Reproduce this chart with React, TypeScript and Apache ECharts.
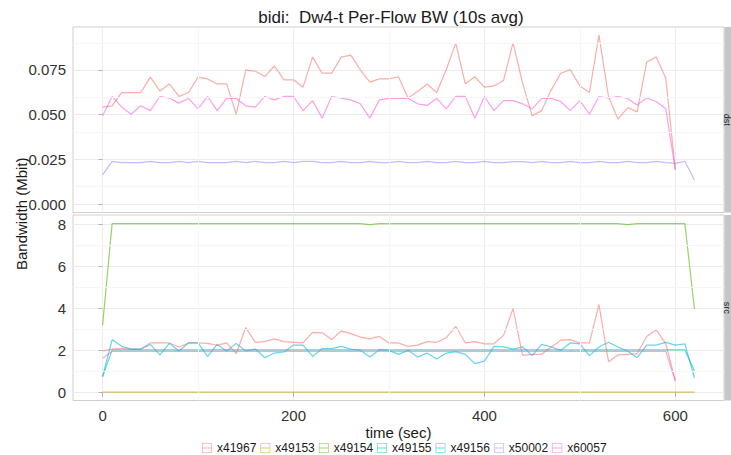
import React, { useEffect, useRef } from "react";
import * as echarts from "echarts";

const times = [0, 10, 20, 30, 40, 50, 60, 70, 80, 90, 100, 110, 120, 130, 140, 150, 160, 170, 180, 190, 200, 210, 220, 230, 240, 250, 260, 270, 280, 290, 300, 310, 320, 330, 340, 350, 360, 370, 380, 390, 400, 410, 420, 430, 440, 450, 460, 470, 480, 490, 500, 510, 520, 530, 540, 550, 560, 570, 580, 590, 600, 610, 620];

const legendNames = ["x41967", "x49153", "x49154", "x49155", "x49156", "x50002", "x60057"];
const colors: Record<string, string> = {
  x41967: "#F8766D",
  x49153: "#C49A00",
  x49154: "#53B400",
  x49155: "#00C094",
  x49156: "#00B6EB",
  x50002: "#A58AFF",
  x60057: "#FB61D7",
};

// dst panel (Mbit)
const dst41967 = [0.0542, 0.055, 0.0624, 0.0624, 0.0624, 0.071, 0.0633, 0.0672, 0.0602, 0.0624,
  0.071, 0.07, 0.0672, 0.0672, 0.0503, 0.0751, 0.0743, 0.0713, 0.0773, 0.0695,
  0.0695, 0.0654, 0.0822, 0.0732, 0.0732, 0.0822, 0.0833, 0.0751, 0.0682, 0.07,
  0.07, 0.0712, 0.0593, 0.063, 0.0672, 0.0624, 0.0751, 0.09, 0.0672, 0.0712,
  0.0654, 0.0661, 0.0691, 0.0903, 0.0677, 0.0494, 0.0523, 0.0639, 0.0732, 0.0751,
  0.0661, 0.0624, 0.0945, 0.0602, 0.0475, 0.054, 0.0516, 0.0794, 0.0822, 0.0704,
  0.0192];
const dst50002 = [0.0164, 0.024, 0.0233, 0.0233, 0.0233, 0.024, 0.0233, 0.0233, 0.024, 0.0233,
  0.024, 0.0233, 0.0233, 0.0233, 0.024, 0.0233, 0.024, 0.0233, 0.0233, 0.024,
  0.0233, 0.024, 0.024, 0.0233, 0.0233, 0.024, 0.0233, 0.0233, 0.024, 0.0233,
  0.0233, 0.024, 0.0233, 0.0233, 0.024, 0.0233, 0.0233, 0.024, 0.0233, 0.0233,
  0.024, 0.0233, 0.0233, 0.0238, 0.0238, 0.0233, 0.024, 0.0233, 0.0233, 0.024,
  0.0233, 0.0233, 0.024, 0.0233, 0.0233, 0.024, 0.0233, 0.0233, 0.024, 0.0233,
  0.0228, 0.024, 0.0136];
const dst60057 = [0.0494, 0.0602, 0.0542, 0.0503, 0.055, 0.0523, 0.0602, 0.0593, 0.0565, 0.0591,
  0.0533, 0.0602, 0.0523, 0.0591, 0.0591, 0.055, 0.0542, 0.0602, 0.0583, 0.0602,
  0.0602, 0.0523, 0.0579, 0.0481, 0.0602, 0.0593, 0.0583, 0.0561, 0.0481, 0.0583,
  0.0591, 0.0591, 0.0591, 0.0561, 0.0552, 0.0591, 0.0533, 0.0602, 0.0602, 0.0481,
  0.0602, 0.0523, 0.0579, 0.0579, 0.0561, 0.0533, 0.0591, 0.0591, 0.0574, 0.0523,
  0.0579, 0.0503, 0.0602, 0.0593, 0.0602, 0.0591, 0.0554, 0.0594, 0.0574, 0.0533,
  0.0192];

// src panel (Mbit)
const src41967 = [1.98, 2.07, 2.1, 2.07, 2.07, 2.36, 2.36, 2.36, 2.17, 2.36,
  2.36, 2.34, 2.25, 2.36, 1.85, 3.09, 2.39, 2.42, 2.55, 2.42,
  2.39, 2.36, 2.86, 2.84, 2.52, 2.93, 2.8, 2.64, 2.55, 2.67,
  2.36, 2.36, 2.2, 2.26, 2.42, 2.39, 2.61, 3.15, 2.36, 2.42,
  2.32, 2.32, 2.72, 3.99, 1.77, 1.82, 1.82, 2.17, 2.49, 2.52,
  2.36, 2.36, 4.18, 1.47, 1.79, 1.82, 1.85, 2.67, 2.99, 2.32,
  0.58];
const src49153 = [0.03, 0.03, 0.03, 0.03, 0.03, 0.03, 0.03, 0.03, 0.03, 0.03,
  0.03, 0.03, 0.03, 0.03, 0.03, 0.03, 0.03, 0.03, 0.03, 0.03,
  0.03, 0.03, 0.03, 0.03, 0.03, 0.03, 0.03, 0.03, 0.03, 0.03,
  0.03, 0.03, 0.03, 0.03, 0.03, 0.03, 0.03, 0.03, 0.03, 0.03,
  0.03, 0.03, 0.03, 0.03, 0.03, 0.03, 0.03, 0.03, 0.03, 0.03,
  0.03, 0.03, 0.03, 0.03, 0.03, 0.03, 0.03, 0.03, 0.03, 0.03,
  0.03, 0.03, 0.03];
const src49154 = [3.2, 8.02, 8.02, 8.02, 8.02, 8.02, 8.02, 8.02, 8.02, 8.02,
  8.02, 8.02, 8.02, 8.02, 8.02, 8.02, 8.02, 8.02, 8.02, 8.02,
  8.02, 8.02, 8.02, 8.02, 8.02, 8.02, 8.02, 8.02, 7.97, 8.02,
  8.02, 8.02, 8.02, 8.02, 8.02, 8.02, 8.02, 8.02, 8.02, 8.02,
  8.02, 8.02, 8.02, 8.02, 8.02, 8.02, 8.02, 8.02, 8.02, 8.02,
  8.02, 8.02, 8.02, 8.02, 8.02, 7.97, 8.02, 8.02, 8.02, 8.02,
  8.02, 8.02, 3.99];
const src49155 = [0.75, 2.03, 2.03, 2.03, 2.03, 2.03, 2.03, 2.03, 2.03, 2.03,
  2.03, 2.03, 2.03, 2.03, 2.03, 2.03, 2.03, 2.03, 2.03, 2.03,
  2.03, 2.03, 2.03, 2.03, 2.03, 2.03, 2.03, 2.03, 2.03, 2.03,
  2.03, 2.03, 2.03, 2.03, 2.03, 2.03, 2.03, 2.03, 2.03, 2.03,
  2.03, 2.03, 2.03, 2.03, 2.03, 2.03, 2.03, 2.03, 2.03, 2.03,
  2.03, 2.03, 2.03, 2.03, 2.03, 2.03, 2.03, 2.03, 2.03, 2.03,
  2.03, 2.03, 1.03];
const src49156 = [0.78, 2.52, 2.2, 2.07, 2.07, 2.29, 1.79, 2.34, 1.98, 2.36,
  2.36, 1.72, 2.29, 1.98, 2.34, 1.98, 2.07, 1.66, 1.88, 1.93,
  2.26, 2.26, 1.72, 2.09, 2.09, 2.2, 2.07, 2.01, 1.69, 2.04,
  2.01, 1.82, 2.01, 1.69, 1.88, 1.6, 1.88, 1.95, 1.82, 1.38,
  1.5, 2.2, 2.17, 2.07, 2.17, 1.76, 2.29, 2.17, 2.01, 2.36,
  2.32, 1.76, 2.17, 2.39, 2.17, 1.98, 1.66, 2.26, 2.26, 2.39,
  2.26, 2.32, 0.71];
const src60057 = [1.63, 1.96, 1.96, 1.96, 1.96, 1.96, 1.96, 1.96, 1.96, 1.96,
  1.96, 1.96, 1.96, 1.96, 1.96, 1.96, 1.96, 1.96, 1.96, 1.96,
  1.96, 1.96, 1.96, 1.96, 1.96, 1.96, 1.96, 1.96, 1.96, 1.96,
  1.96, 1.96, 1.96, 1.96, 1.96, 1.96, 1.96, 1.96, 1.96, 1.96,
  1.96, 1.96, 1.96, 1.96, 1.96, 1.96, 1.96, 1.96, 1.96, 1.96,
  1.96, 1.96, 1.96, 1.96, 1.96, 1.96, 1.96, 1.96, 1.96, 1.96,
  0.55];

const xTicks = [0, 200, 400, 600];
const xMinor = [100, 300, 500];
const dstTicks = [0, 0.025, 0.05, 0.075];
const dstMinor = [0.0125, 0.0375, 0.0625, 0.0875];
const srcTicks = [0, 2, 4, 6, 8];
const srcMinor = [1, 3, 5, 7];

const FONT = "Liberation Sans, Arial, Helvetica, sans-serif";

function mk(name: string, data: number[], idx: number) {
  return {
    name,
    type: "line",
    xAxisIndex: idx,
    yAxisIndex: idx,
    data: data.map((v, i) => [times[i], v]),
    showSymbol: false,
    symbol: "none",
    silent: true,
    z: 3,
    lineStyle: { color: colors[name], width: 1.2, opacity: 0.6 },
    itemStyle: { color: colors[name] },
  };
}

function gridHelper(idx: number, yMinor: number[]) {
  return {
    type: "line",
    xAxisIndex: idx,
    yAxisIndex: idx,
    data: [],
    silent: true,
    z: 1,
    markLine: {
      silent: true,
      symbol: ["none", "none"],
      label: { show: false },
      lineStyle: { color: "#f6f6f6", width: 1, type: "solid" },
      data: [...yMinor.map((v) => ({ yAxis: v })), ...xMinor.map((v) => ({ xAxis: v }))],
    },
  };
}

export default function App() {
  const ref = useRef<HTMLDivElement>(null);
  useEffect(() => {
    if (!ref.current) return;
    const chart = echarts.init(ref.current, null, { renderer: "svg" });
    const top = 27;
    const panelH = 185.5;
    const gap = 2.5;
    const left = 73;
    const right = 7;
    const xAxisBase = {
      type: "value",
      min: -31,
      max: 651,
      axisLine: { show: false },
      splitLine: { show: true, lineStyle: { color: "#ececec", width: 1 } },
    };
    chart.setOption({
      animation: false,
      textStyle: { fontFamily: FONT },
      title: {
        text: "bidi:  Dw4-t Per-Flow BW (10s avg)",
        left: 386,
        textAlign: "center",
        top: 4,
        textStyle: { fontSize: 17, fontWeight: "normal", color: "#1a1a1a", fontFamily: FONT },
      },
      legend: {
        data: legendNames,
        left: 197,
        top: 437,
        itemWidth: 10,
        itemHeight: 10,
        itemGap: 4,
        icon: "path://M0,0H10V10H0Z M0.8,0.8V9.2H9.2V0.8Z M0.8,4.4H9.2V5.6H0.8Z",
        itemStyle: { opacity: 0.55 },
        textStyle: { fontSize: 12, color: "#1a1a1a", fontFamily: FONT },
      },
      grid: [
        { left, right, top, height: panelH, show: true, borderColor: "#cfcfcf", borderWidth: 1, backgroundColor: "#fff" },
        { left, right, top: top + panelH + gap, height: panelH, show: true, borderColor: "#cfcfcf", borderWidth: 1, backgroundColor: "#fff" },
      ],
      xAxis: [
        {
          ...xAxisBase,
          gridIndex: 0,
          axisTick: { show: false, customValues: xTicks },
          axisLabel: { show: false, customValues: xTicks },
        },
        {
          ...xAxisBase,
          gridIndex: 1,
          axisTick: { show: true, length: 4, lineStyle: { color: "#b3b3b3" }, customValues: xTicks },
          axisLabel: { show: true, customValues: xTicks, fontSize: 15, color: "#333", margin: 7, fontFamily: FONT },
          name: "time (sec)",
          nameLocation: "middle",
          nameGap: 24,
          nameTextStyle: { fontSize: 15, color: "#1a1a1a", fontFamily: FONT },
        },
      ],
      yAxis: [
        {
          type: "value",
          gridIndex: 0,
          min: -0.0046,
          max: 0.099,
          axisLine: { show: false },
          splitLine: { show: true, lineStyle: { color: "#ececec", width: 1 } },
          axisTick: { show: true, length: 4, lineStyle: { color: "#b3b3b3" }, customValues: dstTicks },
          axisLabel: {
            customValues: dstTicks,
            fontSize: 15,
            color: "#333",
            margin: 7,
            fontFamily: FONT,
            formatter: (v: number) => v.toFixed(3),
          },
        },
        {
          type: "value",
          gridIndex: 1,
          min: -0.37,
          max: 8.43,
          axisLine: { show: false },
          splitLine: { show: true, lineStyle: { color: "#ececec", width: 1 } },
          axisTick: { show: true, length: 4, lineStyle: { color: "#b3b3b3" }, customValues: srcTicks },
          axisLabel: {
            customValues: srcTicks,
            fontSize: 15,
            color: "#333",
            margin: 7,
            fontFamily: FONT,
            formatter: (v: number) => String(v),
          },
        },
      ],
      graphic: [
        {
          type: "rect",
          shape: { x: 731 - right + 0.5, y: top, width: 12, height: panelH },
          style: { fill: "#c6c6c6" },
        },
        {
          type: "rect",
          shape: { x: 731 - right + 0.5, y: top + panelH + gap, width: 12, height: panelH },
          style: { fill: "#c6c6c6" },
        },
        {
          type: "text",
          x: 726.5,
          y: top + panelH / 2,
          rotation: -Math.PI / 2,
          style: { text: "dst", fontSize: 9, fill: "#1a1a1a", align: "center", verticalAlign: "middle", fontFamily: FONT },
        },
        {
          type: "text",
          x: 726.5,
          y: top + panelH + gap + panelH / 2,
          rotation: -Math.PI / 2,
          style: { text: "src", fontSize: 9, fill: "#1a1a1a", align: "center", verticalAlign: "middle", fontFamily: FONT },
        },
        {
          type: "text",
          x: 21,
          y: top + panelH + gap / 2,
          rotation: Math.PI / 2,
          style: { text: "Bandwidth (Mbit)", fontSize: 15, fill: "#1a1a1a", align: "center", verticalAlign: "middle", fontFamily: FONT },
        },
      ],
      series: [
        gridHelper(0, dstMinor),
        gridHelper(1, srcMinor),
        mk("x41967", dst41967, 0),
        mk("x50002", dst50002, 0),
        mk("x60057", dst60057, 0),
        mk("x41967", src41967, 1),
        mk("x49153", src49153, 1),
        mk("x49154", src49154, 1),
        mk("x49155", src49155, 1),
        mk("x49156", src49156, 1),
        mk("x60057", src60057, 1),
      ],
    });
    return () => chart.dispose();
  }, []);
  return <div ref={ref} style={{ position: "absolute", left: 0, top: 0, width: 731, height: 455 }} />;
}
